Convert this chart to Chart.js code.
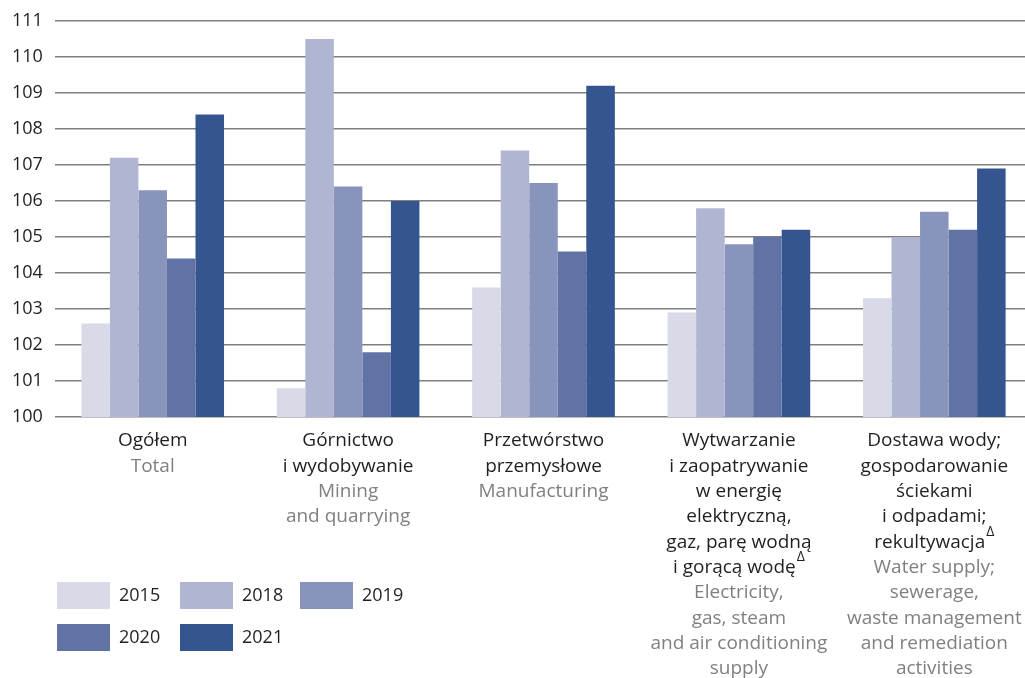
<!DOCTYPE html>
<html>
<head>
<meta charset="utf-8">
<script src="https://cdn.jsdelivr.net/npm/chart.js@4"></script>
<style>
  html, body { margin: 0; padding: 0; background: #fff; overflow: hidden; }
  #wrap { position: relative; width: 1032px; height: 678px; }
</style>
</head>
<body>
<div id="wrap"><canvas id="chart"></canvas></div>
<script>
// categories: Polish lines and English lines ('^' marks a superscript triangle)
const categoriesPl = [
  ['Ogółem'],
  ['Górnictwo', 'i wydobywanie'],
  ['Przetwórstwo', 'przemysłowe'],
  ['Wytwarzanie', 'i zaopatrywanie', 'w energię', 'elektryczną,', 'gaz, parę wodną', 'i gorącą wodę^'],
  ['Dostawa wody;', 'gospodarowanie', 'ściekami', 'i odpadami;', 'rekultywacja^']
];
const categoriesEn = [
  ['Total'],
  ['Mining', 'and quarrying'],
  ['Manufacturing'],
  ['Electricity,', 'gas, steam', 'and air conditioning', 'supply'],
  ['Water supply;', 'sewerage,', 'waste management', 'and remediation', 'activities']
];

const years = ['2015', '2018', '2019', '2020', '2021'];
const values2015 = [102.6, 100.8, 103.6, 102.9, 103.3];
const values2018 = [107.2, 110.5, 107.4, 105.8, 105.0];
const values2019 = [106.3, 106.4, 106.5, 104.8, 105.7];
const values2020 = [104.4, 101.8, 104.6, 105.0, 105.2];
const values2021 = [108.4, 106.0, 109.2, 105.2, 106.9];
const yearColors = ['#d8dae8', '#b0b5d2', '#8894bc', '#6172a4', '#34558f'];

const yMin = 100, yMax = 111;

const FONT = '"Open Sans", "Noto Sans", sans-serif';
const DARK = '#231f20';
const GREY = '#808080';

// draw x-axis category labels, two colours, with superscript triangle
const categoryLabels = {
  id: 'categoryLabels',
  afterDraw(chart) {
    const ctx = chart.ctx;
    const xs = chart.scales.x;
    const top = chart.chartArea.bottom + 24;
    const lh = 25.3;
    ctx.save();
    ctx.textBaseline = 'middle';
    ctx.textAlign = 'left';
    categoriesPl.forEach((pl, i) => {
      const cx = xs.getPixelForValue(i);
      const lines = pl.map(t => ({ t, c: DARK })).concat(categoriesEn[i].map(t => ({ t, c: GREY })));
      lines.forEach((ln, k) => {
        const y = top + k * lh;
        const sup = ln.t.endsWith('^');
        const txt = sup ? ln.t.slice(0, -1) : ln.t;
        ctx.font = '19px ' + FONT;
        const w = ctx.measureText(txt).width;
        ctx.font = '14px ' + FONT;
        const sw = sup ? ctx.measureText('Δ').width + 1 : 0;
        const x0 = cx - (w + sw) / 2;
        ctx.fillStyle = ln.c;
        ctx.font = '19px ' + FONT;
        ctx.fillText(txt, x0, y);
        if (sup) {
          ctx.font = '14px ' + FONT;
          ctx.fillText('Δ', x0 + w + 1, y - 10);
        }
      });
    });
    ctx.restore();
  }
};

// legend in two rows at bottom left
const boxLegend = {
  id: 'boxLegend',
  afterDraw(chart) {
    const ctx = chart.ctx;
    const cols = [57, 180, 300];
    const rows = [582, 624];
    ctx.save();
    ctx.font = '18px ' + FONT;
    ctx.textBaseline = 'middle';
    ctx.textAlign = 'left';
    chart.data.datasets.forEach((ds, i) => {
      const x = cols[i % 3];
      const y = rows[Math.floor(i / 3)];
      ctx.fillStyle = ds.backgroundColor;
      ctx.fillRect(x, y, 53, 27);
      ctx.fillStyle = DARK;
      ctx.fillText(ds.label, x + 62, y + 14);
    });
    ctx.restore();
  }
};

const allValues = [values2015, values2018, values2019, values2020, values2021];

new Chart(document.getElementById('chart'), {
  type: 'bar',
  data: {
    labels: categoriesPl.map(l => l.join(' ')),
    datasets: years.map((y, i) => ({
      label: y,
      data: allValues[i],
      backgroundColor: yearColors[i],
      borderWidth: 0,
      categoryPercentage: 0.73,
      barPercentage: 1.0
    }))
  },
  options: {
    responsive: true,
    maintainAspectRatio: false,
    animation: false,
    layout: { padding: { top: 21, left: 12, right: 0, bottom: 0 } },
    plugins: {
      legend: { display: false },
      tooltip: { enabled: false }
    },
    scales: {
      x: {
        grid: { display: false },
        border: { display: false },
        ticks: { display: false },
        afterFit(scale) { scale.height = 261; }
      },
      y: {
        min: yMin,
        max: yMax,
        border: { display: false },
        grid: { color: '#7f7f7f', lineWidth: 1.5, drawTicks: false },
        ticks: {
          stepSize: 1,
          padding: 0,
          crossAlign: 'far',
          color: DARK,
          font: { family: FONT, size: 18 }
        },
        afterFit(scale) { scale.width = 43; }
      }
    }
  },
  plugins: [categoryLabels, boxLegend]
});
</script>
</body>
</html>
